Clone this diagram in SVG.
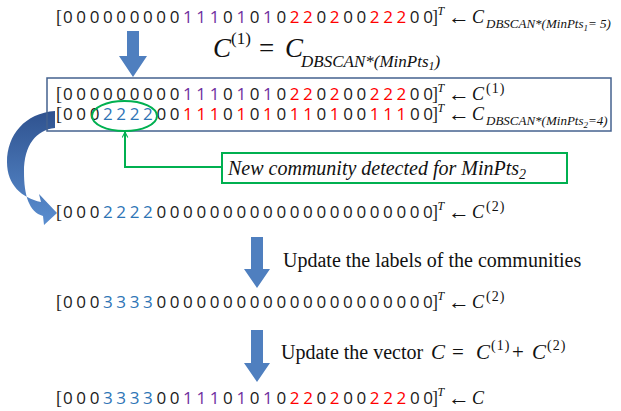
<svg xmlns="http://www.w3.org/2000/svg" width="621" height="411" viewBox="0 0 621 411">
<style>
.d{font-family:"Open Sans","Liberation Sans",sans-serif;font-size:17px;letter-spacing:-0.4px;fill:#1a1a1a}
.br{font-family:"Liberation Serif",serif;font-size:18px;fill:#222}
.it{font-family:"Liberation Serif",serif;font-style:italic;fill:#111}
.rm{font-family:"Liberation Serif",serif;fill:#111}
.ar{font-family:"Liberation Serif",serif;font-size:22px;fill:#111}
.p{fill:#7030A0}
.r{fill:#FF0000}
.b{fill:#2E75B6}
.blk{fill:#4F7FBF}
.grn{fill:none;stroke:#00B050;stroke-width:2}
</style>
<defs>
<linearGradient id="cg" x1="0" y1="0" x2="0" y2="1">
<stop offset="0" stop-color="#2F528F"/>
<stop offset="1" stop-color="#5A8ED0"/>
</linearGradient>
<marker id="open" viewBox="0 0 10 10" refX="9" refY="5" markerWidth="7" markerHeight="7" orient="auto" markerUnits="userSpaceOnUse">
<path d="M1 1 L9 5 L1 9" fill="none" stroke="#00B050" stroke-width="1.5"/>
</marker>
</defs>

<g id="connectors">
<path id="arrow1" class="blk" d="M127 31 H139 V56 H147 L133 77 L119 56 H127 Z"/>
<path id="arrow2" class="blk" d="M251 237 H263 V269 H270 L257 288 L244 269 H251 Z"/>
<path id="arrow3" class="blk" d="M251 330 H263 V363 H270 L257 382 L244 363 H251 Z"/>
<path id="curved" fill="url(#cg)" d="M55 111 C25 113 7 135 7 162 C7 185 22 198 41 202 L39 194 L57 213 L44 225 L43 216 C29 212 24 195 24 172 C24 145 36 130 55 128 Z"/>
<polyline id="callout-line" class="grn" stroke-width="1.5" points="222,167 125,167 125,132" marker-end="url(#open)"/>
</g>

<g id="row1" transform="translate(0,23)">
<text class="br" x="56" y="0">[</text>
<text class="d" x="63" y="0">0 0 0 0 0 0 0 0 0 <tspan class="p">1 1 1</tspan> 0 <tspan class="p">1</tspan> 0 <tspan class="p">1</tspan> 0 <tspan class="r">2 2</tspan> 0 <tspan class="r">2</tspan> 0 0 <tspan class="r">2 2 2</tspan> 0 0</text>
<text class="br" x="432" y="0">]</text>
<text class="it" x="437.5" y="-8" font-size="12">T</text>
<text class="ar" x="448" y="1">←</text>
<text class="it" x="472" y="0" font-size="18">C</text>
<text class="it" x="486" y="5" font-size="13">DBSCAN*(MinPts<tspan font-size="9" dy="3">1</tspan><tspan dy="-3">= 5)</tspan></text>
</g>

<g id="eq1">
<text class="it" x="213" y="57" font-size="27">C</text>
<text class="rm" x="231" y="44" font-size="17">(1)</text>
<text class="rm" x="259" y="57" font-size="27">=</text>
<text class="it" x="285" y="57" font-size="27">C</text>
<text class="it" x="301" y="67" font-size="17">DBSCAN*(MinPts<tspan font-size="12" dy="3">1</tspan><tspan dy="-3">)</tspan></text>
</g>

<g id="box">
<rect x="47" y="78" width="564" height="53" fill="none" stroke="#44628F" stroke-width="1.5"/>
<g transform="translate(0,100)">
<text class="br" x="56" y="0">[</text>
<text class="d" x="63" y="0">0 0 0 0 0 0 0 0 0 <tspan class="p">1 1 1</tspan> 0 <tspan class="p">1</tspan> 0 <tspan class="p">1</tspan> 0 <tspan class="r">2 2</tspan> 0 <tspan class="r">2</tspan> 0 0 <tspan class="r">2 2 2</tspan> 0 0</text>
<text class="br" x="432" y="0">]</text>
<text class="it" x="437.5" y="-8" font-size="12">T</text>
<text class="ar" x="448" y="1">←</text>
<text class="it" x="472" y="0" font-size="18">C</text>
<text class="rm" x="486" y="-7" font-size="14" letter-spacing="1">(1)</text>
</g>
<g transform="translate(0,120)">
<text class="br" x="56" y="0">[</text>
<text class="d" x="63" y="0">0 0 0 <tspan class="b">2 2 2 2</tspan> 0 0 <tspan class="r">1 1 1</tspan> 0 <tspan class="r">1</tspan> 0 <tspan class="r">1</tspan> 0 <tspan class="r">1 1</tspan> 0 <tspan class="r">1</tspan> 0 0 <tspan class="r">1 1 1</tspan> 0 0</text>
<text class="br" x="432" y="0">]</text>
<text class="it" x="437.5" y="-8" font-size="12">T</text>
<text class="ar" x="448" y="1">←</text>
<text class="it" x="472" y="0" font-size="18">C</text>
<text class="it" x="486" y="5" font-size="13">DBSCAN*(MinPts<tspan font-size="9" dy="3">2</tspan><tspan dy="-3">=4)</tspan></text>
</g>
</g>

<g id="highlight">
<ellipse cx="124.5" cy="116" rx="32.5" ry="15" class="grn"/>
</g>

<g id="callout">
<rect x="222" y="153" width="345" height="30" fill="#fff" stroke="#00B050" stroke-width="2"/>
<text class="it" x="228" y="175" font-size="20">New community detected for MinPts<tspan font-size="14" dy="4">2</tspan></text>
</g>

<g id="row-c2" transform="translate(0,218)">
<text class="br" x="56" y="0">[</text>
<text class="d" x="63" y="0">0 0 0 <tspan class="b">2 2 2 2</tspan> 0 0 0 0 0 0 0 0 0 0 0 0 0 0 0 0 0 0 0 0 0</text>
<text class="br" x="432" y="0">]</text>
<text class="it" x="437.5" y="-8" font-size="12">T</text>
<text class="ar" x="448" y="1">←</text>
<text class="it" x="472" y="0" font-size="18">C</text>
<text class="rm" x="486" y="-7" font-size="14" letter-spacing="1">(2)</text>
</g>

<g id="label2">
<text class="rm" x="283" y="267" font-size="20">Update the labels of the communities</text>
</g>

<g id="row3" transform="translate(0,308)">
<text class="br" x="56" y="0">[</text>
<text class="d" x="63" y="0">0 0 0 <tspan class="b">3 3 3 3</tspan> 0 0 0 0 0 0 0 0 0 0 0 0 0 0 0 0 0 0 0 0 0</text>
<text class="br" x="432" y="0">]</text>
<text class="it" x="437.5" y="-8" font-size="12">T</text>
<text class="ar" x="448" y="1">←</text>
<text class="it" x="472" y="0" font-size="18">C</text>
<text class="rm" x="486" y="-7" font-size="14" letter-spacing="1">(2)</text>
</g>

<g id="label3">
<text class="rm" x="281" y="359" font-size="20">Update the vector</text>
<text class="it" x="431" y="359" font-size="21">C</text>
<text class="rm" x="452" y="359" font-size="21">=</text>
<text class="it" x="476" y="359" font-size="21">C</text>
<text class="rm" x="491" y="350" font-size="14" letter-spacing="1">(1)</text>
<text class="rm" x="512" y="359" font-size="21">+</text>
<text class="it" x="532" y="359" font-size="21">C</text>
<text class="rm" x="547" y="350" font-size="14" letter-spacing="1">(2)</text>
</g>

<g id="row-final" transform="translate(0,404)">
<text class="br" x="56" y="0">[</text>
<text class="d" x="63" y="0">0 0 0 <tspan class="b">3 3 3 3</tspan> 0 0 <tspan class="p">1 1 1</tspan> 0 <tspan class="p">1</tspan> 0 <tspan class="p">1</tspan> 0 <tspan class="r">2 2</tspan> 0 <tspan class="r">2</tspan> 0 0 <tspan class="r">2 2 2</tspan> 0 0</text>
<text class="br" x="432" y="0">]</text>
<text class="it" x="437.5" y="-8" font-size="12">T</text>
<text class="ar" x="448" y="1">←</text>
<text class="it" x="472" y="0" font-size="18">C</text>
</g>
</svg>
